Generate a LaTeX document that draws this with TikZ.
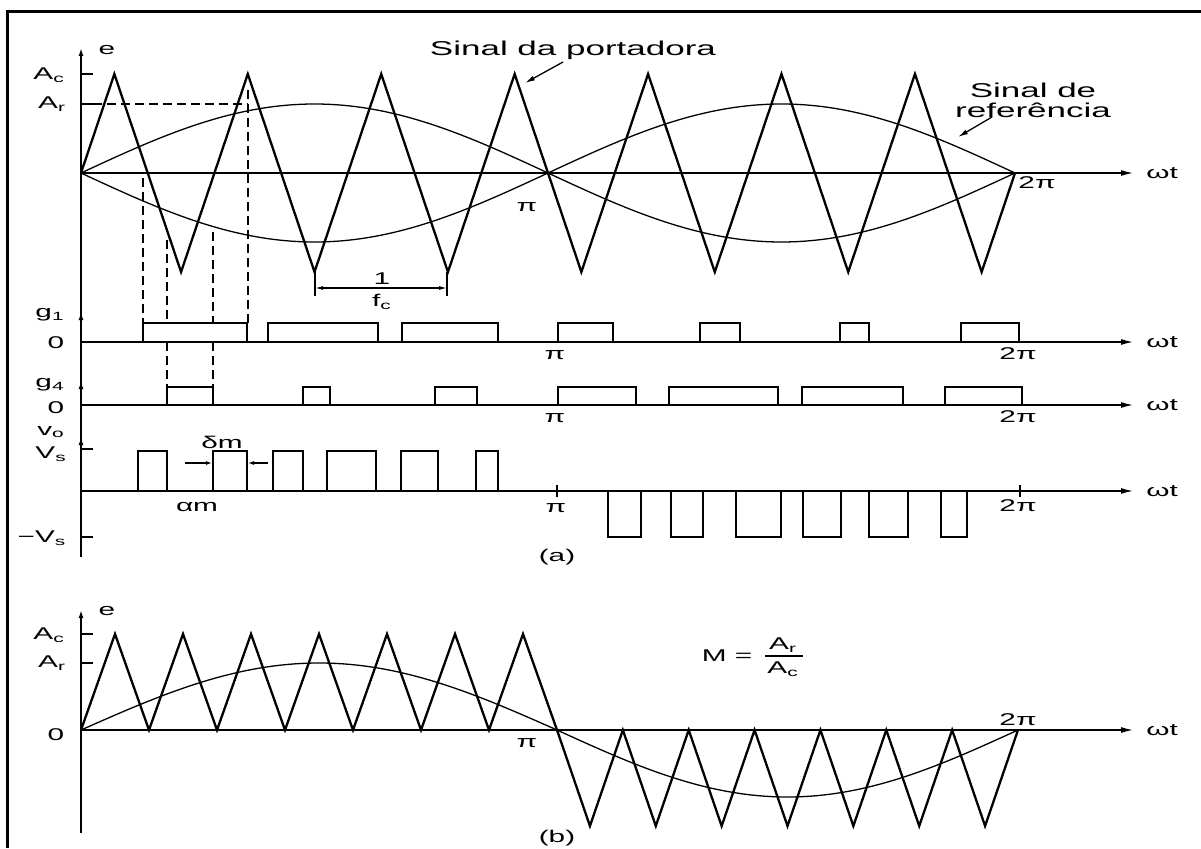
\documentclass[tikz,border=0pt]{standalone}
\usepackage{fontspec}
\setmainfont{Liberation Sans}
\usetikzlibrary{arrows.meta}
\newcommand{\hs}[1]{\scalebox{1.75}[1]{#1}}
\newcommand{\sbs}[1]{\textsubscript{#1}}
\begin{document}
\begin{tikzpicture}[x=1pt,y=-1pt,
 lbl/.style={font=\fontsize{17}{20}\selectfont, inner sep=0pt},
 big/.style={font=\fontsize{20}{23}\selectfont, inner sep=0pt, align=center},
 axis/.style={line width=1.3pt, -{Latex[length=12pt,width=6pt]}},
 vax/.style={line width=1.6pt, -{Latex[length=8pt,width=5pt]}},
 tri/.style={line width=2.3pt},
 refc/.style={line width=1.3pt},
 pulse/.style={line width=1.5pt},
 dsh/.style={line width=1.5pt, dash pattern=on 9pt off 5pt},
 tk/.style={line width=1.3pt},
 ptr/.style={line width=1.3pt, -{Latex[length=10pt,width=5pt]}},
 dim/.style={line width=1.2pt, {Latex[length=8pt,width=4pt]}-{Latex[length=8pt,width=4pt]}},
 frm/.style={line width=3pt}]
\useasboundingbox (0,0) rectangle (1201,848);
% frame
\draw[frm] (7,848) -- (7,12) -- (1201,12);

% ================= panel (a) =================
% axes
\draw[vax] (81,557) -- (81,48);
\draw[vax] (81,330) -- (81,312);
\draw[vax] (81,398) -- (81,381);
\draw[vax] (81,455) -- (81,437);
\draw[axis] (81,173) -- (1133,173);
\draw[axis] (81,342) -- (1133,342);
\draw[axis] (81,405) -- (1133,405);
\draw[axis] (81,491) -- (1133,491);
% ticks
\draw[tk] (81,74) -- (93,74);
\draw[tk] (81,104) -- (93,104);
\draw[tk] (81,449) -- (93,449);
\draw[tk] (81,537) -- (93,537);
\draw[tk] (557,485) -- (557,497);
\draw[tk] (1020,485) -- (1020,497);

% reference signals
\draw[refc] plot[domain=0:360, samples=121, variable=\t] ({81+2.59444*\t},{173-69*sin(\t)});
\draw[refc] plot[domain=0:360, samples=121, variable=\t] ({81+2.59444*\t},{173+69*sin(\t)});
% carrier
\draw[tri] (81,173) \foreach \j in {0,...,6} { -- ({81+133.43*\j+33.36},74) -- ({81+133.43*\j+100.07},272) } -- (1015,173);

% dashed construction lines
\draw[dsh] (93,104) -- (248,104);
\draw[dsh] (143,178) -- (143,323);
\draw[dsh] (167,240) -- (167,323);
\draw[dsh] (167,342) -- (167,387);
\draw[dsh] (213,232) -- (213,323);
\draw[dsh] (213,342) -- (213,387);
\draw[dsh] (248,90) -- (248,323);

% 1/fc
\draw[tk] (315,272) -- (315,296);
\draw[tk] (447,272) -- (447,296);
\coordinate (fcL) at (315,288);
\coordinate (fcR) at (447,288);
\draw[dim] (fcL) -- (fcR);
\node[lbl, fill=white, inner sep=1pt] (one) at (382,279) {\hs{1}};
\node[lbl] (fc) at (382,302) {\hs{f\sbs{c}}};

% g1 pulses
\foreach \a/\b in {143/247, 268/378, 402/498, 558/613, 700/740, 840/869, 961/1019}
  \draw[pulse] (\a,342) -- (\a,323) -- (\b,323) -- (\b,342);
% g4 pulses
\foreach \a/\b in {167/213, 303/330, 435/477, 558/636, 669/778, 802/903, 945/1022}
  \draw[pulse] (\a,405) -- (\a,387) -- (\b,387) -- (\b,405);
% vo pulses
\foreach \a/\b in {138/167, 213/247, 273/303, 327/376, 401/438, 476/498}
  \draw[pulse] (\a,491) -- (\a,451) -- (\b,451) -- (\b,491);
\foreach \a/\b in {608/641, 671/703, 736/781, 803/841, 869/908, 941/967}
  \draw[pulse] (\a,491) -- (\a,537) -- (\b,537) -- (\b,491);

% delta m arrows
\coordinate (dmA) at (185,463);
\coordinate (dmB) at (212,463);
\coordinate (dmC) at (268,463);
\coordinate (dmD) at (248,463);
\draw[line width=1.1pt, -{Latex[length=6pt,width=4pt]}] (dmA) -- (dmB);
\draw[line width=1.1pt, -{Latex[length=6pt,width=4pt]}] (dmC) -- (dmD);

% labels panel (a)
\node[lbl] (e1) at (107,50) {\hs{e}};
\node[lbl] (Ac1) at (49,75) {\hs{A\sbs{c}}};
\node[lbl] (Ar1) at (52,104) {\hs{A\sbs{r}}};
\node[lbl] (wt1) at (1162,173) {\hs{ωt}};
\node[lbl] (pi1) at (527,207) {\hs{π}};
\node[lbl] (tp1) at (1037,183) {\hs{2π}};
\node[lbl] (g1) at (50,315) {\hs{g\sbs{1}}};
\node[lbl] (z1) at (56,343) {\hs{0}};
\node[lbl] (wt2) at (1162,342) {\hs{ωt}};
\node[lbl] (pi2) at (555,355) {\hs{π}};
\node[lbl] (tp2) at (1018,354) {\hs{2π}};
\node[lbl] (g4) at (50,385) {\hs{g\sbs{4}}};
\node[lbl] (z2) at (56,408) {\hs{0}};
\node[lbl] (wt3) at (1162,405) {\hs{ωt}};
\node[lbl] (pi3) at (555,418) {\hs{π}};
\node[lbl] (tp3) at (1018,417) {\hs{2π}};
\node[lbl] (vo) at (51,432) {\hs{v\sbs{o}}};
\node[lbl] (Vs) at (51,454) {\hs{V\sbs{s}}};
\node[lbl] (mVs) at (42,538) {\hs{−V\sbs{s}}};
\node[lbl] (wt4) at (1162,491) {\hs{ωt}};
\node[lbl] (pi4) at (556,508) {\hs{π}};
\node[lbl] (tp4) at (1018,506) {\hs{2π}};
\node[lbl] (dm) at (222,442) {\hs{δm}};
\node[lbl] (am) at (197,507) {\hs{αm}};
\node[lbl] (capa) at (557,557) {\hs{(a)}};

% callouts
\node[big] (port) at (573,50) {\hs{Sinal da portadora}};
\coordinate (portS) at (563,62);
\coordinate (portT) at (525,83);
\draw[ptr] (portS) -- (portT);
\node[big] (refl) at (1033,100) {\hs{Sinal de}\\[-3pt]\hs{referência}};
\coordinate (refS) at (992,117);
\coordinate (refT) at (958,137);
\draw[ptr] (refS) -- (refT);

% ================= panel (b) =================
\draw[vax] (81,833) -- (81,610);
\draw[axis] (81,730) -- (1133,730);
\draw[tk] (81,634) -- (93,634);
\draw[tk] (81,663) -- (93,663);
\draw[refc] plot[domain=0:180, samples=61, variable=\t] ({81+2.64444*\t},{730-67*sin(\t)});
\draw[refc] plot[domain=180:360, samples=61, variable=\t] ({557+2.56111*(\t-180)},{730-67*sin(\t)});
\draw[tri] (81,730) \foreach \j in {0,...,6} { -- ({81+68*\j+34},634) -- ({81+68*\j+68},730) }
  \foreach \j in {0,...,6} { -- ({557+65.857*\j+32.93},826) -- ({557+65.857*\j+65.857},730) };

\node[lbl] (e2) at (107,611) {\hs{e}};
\node[lbl] (Ac2) at (49,635) {\hs{A\sbs{c}}};
\node[lbl] (Ar2) at (52,663) {\hs{A\sbs{r}}};
\node[lbl] (z3) at (56,735) {\hs{0}};
\node[lbl] (pi5) at (527,743) {\hs{π}};
\node[lbl] (tp5) at (1018,720) {\hs{2π}};
\node[lbl] (wt5) at (1162,730) {\hs{ωt}};
\node[lbl] (M) at (727,656) {\hs{M =}};
\node[lbl] (Mr) at (783,645) {\hs{A\sbs{r}}};
\node[lbl] (Mc) at (783,669) {\hs{A\sbs{c}}};
\draw[line width=1.2pt] (765,656) -- (803,656);
\node[lbl] (capb) at (557,838) {\hs{(b)}};
\end{tikzpicture}
\end{document}
